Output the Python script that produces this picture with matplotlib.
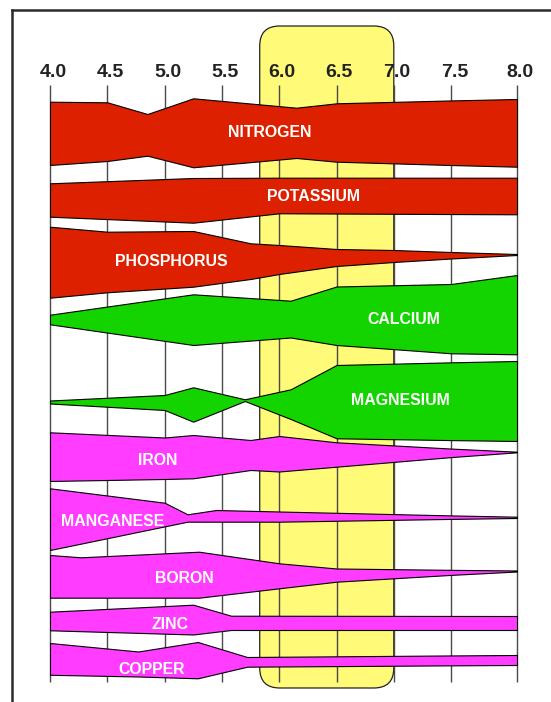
import numpy as np
import matplotlib
matplotlib.use('Agg')
import matplotlib.pyplot as plt
from matplotlib.patches import FancyBboxPatch
from matplotlib.lines import Line2D

plt.rcParams['font.family'] = ['Liberation Sans', 'DejaVu Sans']

# pH axis
ph_ticks = [4.0, 4.5, 5.0, 5.5, 6.0, 6.5, 7.0, 7.5, 8.0]
tick_labels = ['4.0', '4.5', '5.0', '5.5', '6.0', '6.5', '7.0', '7.5', '8.0']
optimum_ph = (5.83, 7.0)

# band half-widths (above / below the band's centre line)
nitrogen_ph = [4.0, 4.5, 4.85, 5.25, 6.15, 6.5, 8.0]
nitrogen_up = [31.3, 30.7, 19.0, 34.7, 25.3, 29.7, 34.0]
nitrogen_lo = [32.0, 28.0, 22.7, 34.3, 25.0, 28.7, 33.7]

potassium_ph = [4.0, 5.25, 6.0, 8.0]
potassium_up = [14.7, 20.0, 20.3, 20.3]
potassium_lo = [18.7, 24.7, 15.3, 16.3]

phosphorus_ph = [4.0, 4.5, 5.25, 5.75, 6.0, 6.5, 7.0, 8.0]
phosphorus_up = [27.8, 22.8, 23.5, 11.2, 9.5, 5.5, 4.5, 0.5]
phosphorus_lo = [43.2, 37.8, 32.2, 24.5, 19.5, 11.5, 7.5, 0.5]

calcium_ph = [4.0, 5.25, 6.1, 6.5, 7.5, 8.0]
calcium_up = [4.8, 25.2, 18.8, 33.0, 35.5, 44.5]
calcium_lo = [4.8, 25.5, 18.0, 25.5, 33.8, 34.8]

magnesium_ph = [4.0, 5.0, 5.25, 5.7, 6.1, 6.5, 8.0]
magnesium_up = [0.5, 6.0, 13.7, 1.7, 11.7, 36.0, 40.0]
magnesium_lo = [2.5, 9.0, 20.7, 0.0, 18.0, 37.3, 40.0]

iron_ph = [4.0, 5.0, 5.25, 5.75, 6.0, 6.5, 8.0]
iron_up = [19.7, 14.5, 17.0, 12.0, 16.0, 9.7, 0.3]
iron_lo = [29.0, 27.0, 26.3, 18.0, 19.5, 14.7, 0.3]

manganese_ph = [4.0, 5.0, 5.2, 5.45, 6.0, 8.0]
manganese_up = [28.7, 14.3, 2.7, 7.0, 5.5, 0.3]
manganese_lo = [33.0, 9.4, 4.7, 4.7, 4.7, 1.0]

boron_ph = [4.0, 4.27, 5.3, 6.0, 6.5, 8.0]
boron_up = [16.0, 13.7, 19.3, 7.7, 2.5, 0.5]
boron_lo = [26.7, 26.7, 26.7, 17.3, 10.7, 0.5]

zinc_ph = [4.0, 5.25, 5.58, 8.0]
zinc_up = [11.3, 18.3, 7.3, 7.0]
zinc_lo = [7.3, 11.5, 7.0, 7.0]

copper_ph = [4.0, 4.77, 5.29, 5.72, 8.0]
copper_up = [17.5, 9.0, 18.5, 3.5, 5.5]
copper_lo = [14.3, 16.0, 17.8, 6.2, 4.5]

RED = '#dc2000'
GREEN = '#14d400'
PINK = '#ff3cff'

# name, data, colour, band centre row, label pH
bands = [
    ('NITROGEN', nitrogen_ph, nitrogen_up, nitrogen_lo, RED, 133.0, 5.92),
    ('POTASSIUM', potassium_ph, potassium_up, potassium_lo, RED, 198.0, 6.30),
    ('PHOSPHORUS', phosphorus_ph, phosphorus_up, phosphorus_lo, RED, 254.5, 5.06),
    ('CALCIUM', calcium_ph, calcium_up, calcium_lo, GREEN, 319.5, 7.09),
    ('MAGNESIUM', magnesium_ph, magnesium_up, magnesium_lo, GREEN, 401.0, 7.06),
    ('IRON', iron_ph, iron_up, iron_lo, PINK, 452.0, 4.94),
    ('MANGANESE', manganese_ph, manganese_up, manganese_lo, PINK, 517.0, 4.55),
    ('BORON', boron_ph, boron_up, boron_lo, PINK, 571.0, 5.17),
    ('ZINC', zinc_ph, zinc_up, zinc_lo, PINK, 623.0, 5.05),
    ('COPPER', copper_ph, copper_up, copper_lo, PINK, 660.5, 4.89),
]
label_rows = [132, 196, 260.5, 318.3, 400, 459.3, 521, 577.7, 623.3, 668.3]

W, H = 551, 702
fig = plt.figure(figsize=(W / 100, H / 100), dpi=100)
ax = fig.add_axes([50 / W, (H - 684) / H, 467 / W, 600 / H])


# last half unit of pH is drawn a bit wider in the original
def fwd(x):
    x = np.asarray(x, dtype=float)
    return x + 0.15 * np.clip(x - 7.5, 0, None)


def inv(t):
    t = np.asarray(t, dtype=float)
    return np.where(t > 7.5, 7.5 + (t - 7.5) / 1.15, t)


ax.set_xscale('function', functions=(fwd, inv))
ax.set_xlim(4.0, 8.0)
ax.set_ylim(684, 84)
ax.axis('off')

# optimum range box
px_per_ph = 467 / 4.075
rad = 20 / px_per_ph
box = FancyBboxPatch((optimum_ph[0], 26), optimum_ph[1] - optimum_ph[0], 688 - 26,
                     boxstyle='round,pad=0,rounding_size=%f' % rad,
                     mutation_aspect=px_per_ph,
                     facecolor='#fffa78', edgecolor='#222222', linewidth=0.9,
                     clip_on=False, zorder=1)
ax.add_patch(box)

ax.vlines(ph_ticks, 85, 682, colors='#4a4a4a', linewidth=1.0, zorder=2, clip_on=False)

for ph, lab in zip(ph_ticks, tick_labels):
    ax.text(ph + 0.025, 77, lab, ha='center', va='baseline', fontsize=14,
            fontweight='bold', color='#222222', clip_on=False)

grid = np.linspace(4.0, 8.0, 401)
for (name, ph, up, lo, col, c, lx), ly in zip(bands, label_rows):
    xs = np.union1d(grid, ph)
    u = np.interp(xs, ph, up)
    l = np.interp(xs, ph, lo)
    ax.fill_between(xs, c - u, c + l, facecolor=col, edgecolor='black',
                    linewidth=0.8, zorder=3)
    ax.text(lx, ly + 5.5, name, ha='center', va='baseline', fontsize=11.4,
            fontweight='bold', color='white', zorder=5)

# outer frame
fig.add_artist(Line2D([12 / W, 1], [1 - 10 / H, 1 - 10 / H], transform=fig.transFigure,
                      color='#2b2b2b', linewidth=1.8))
fig.add_artist(Line2D([12 / W, 12 / W], [0, 1 - 10 / H], transform=fig.transFigure,
                      color='#2b2b2b', linewidth=1.8))

fig.savefig('out.png', dpi=100)
